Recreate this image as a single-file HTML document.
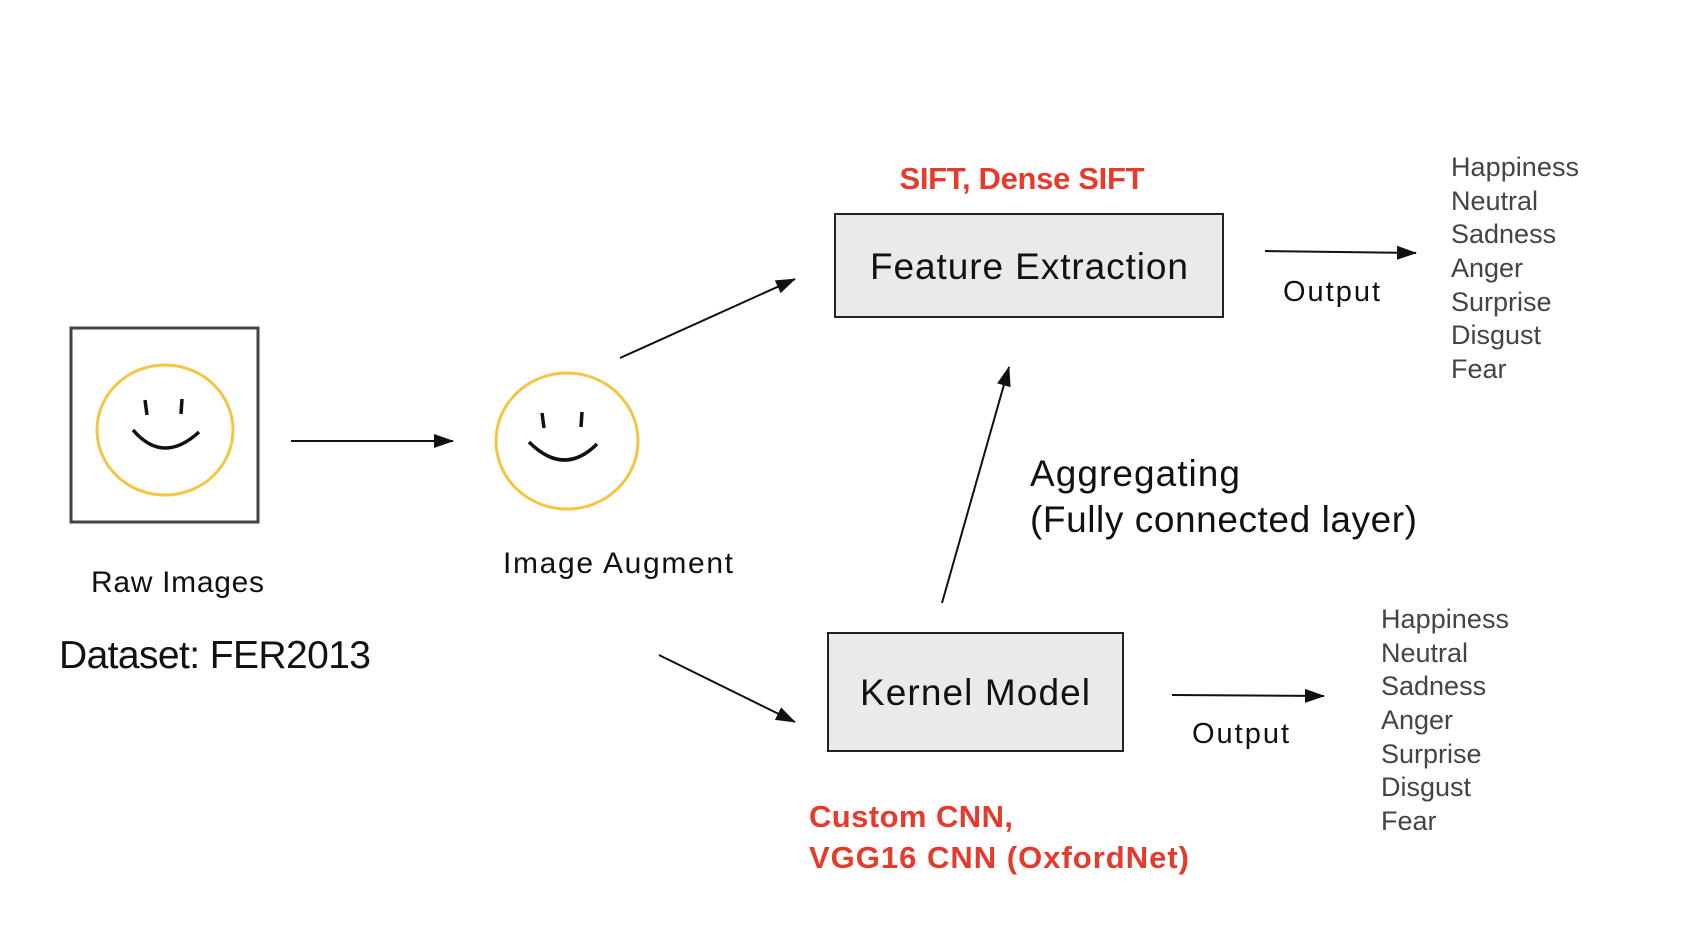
<!DOCTYPE html>
<html><head><meta charset="utf-8"><style>
body{margin:0;background:#fff}
svg{display:block}
text{font-family:"Liberation Sans",sans-serif}
</style></head><body>
<svg width="1684" height="948" viewBox="0 0 1684 948" xmlns="http://www.w3.org/2000/svg">
<defs>
<marker id="b" markerWidth="20" markerHeight="14" refX="19" refY="7" orient="auto" markerUnits="userSpaceOnUse"><path d="M0,0 L20,7 L0,14 z" fill="#111"/></marker></defs>
<g transform="translate(-4,-2)">
<g transform="translate(3,0)">
<rect x="72" y="330" width="187" height="194" fill="#fff" stroke="#444" stroke-width="3"/>
<ellipse cx="166" cy="432" rx="68" ry="65" fill="none" stroke="#f5c542" stroke-width="3"/>
<path d="M146,402 l2,15 M183,401 l-1,15 M134,432 q30,35 66,2" fill="none" stroke="#111" stroke-width="3.5"/>
<ellipse cx="568" cy="443" rx="71" ry="68" fill="none" stroke="#f5c542" stroke-width="3"/>
<path d="M543,415 l2,15 M583,414 l-1,15 M530,444 q35,35 68,2" fill="none" stroke="#111" stroke-width="3.5"/>
<line x1="292" y1="443" x2="454" y2="443" stroke="#111" stroke-width="2" marker-end="url(#b)"/>
</g>
<g stroke="#111" stroke-width="2" fill="none" marker-end="url(#b)">
<line x1="624" y1="360" x2="799" y2="281"/>
<line x1="1269" y1="253" x2="1420" y2="255"/>
<line x1="946" y1="605" x2="1013" y2="369"/>
<line x1="663" y1="657" x2="799" y2="724"/>
<line x1="1176" y1="697" x2="1328" y2="698"/>
</g>
<rect x="839" y="216" width="388" height="103" fill="#e8eaeb" stroke="#222" stroke-width="2"/>
<text x="1033" y="281" font-size="37" text-anchor="middle" fill="#111" textLength="318">Feature Extraction</text>
<rect x="832" y="635" width="295" height="118" fill="#e8eaeb" stroke="#222" stroke-width="2"/>
<text x="979" y="707" font-size="37" text-anchor="middle" fill="#111" textLength="230">Kernel Model</text>
<text x="1026" y="191" font-size="31" font-weight="bold" text-anchor="middle" fill="#e53b2c" textLength="245">SIFT, Dense SIFT</text>
<text x="813" y="829" font-size="31" font-weight="bold" fill="#e53b2c" textLength="204">Custom CNN,</text>
<text x="813" y="870" font-size="31" font-weight="bold" fill="#e53b2c" textLength="380">VGG16 CNN (OxfordNet)</text>
<text x="95" y="594" font-size="30" fill="#111" textLength="173">Raw Images</text>
<text x="507" y="575" font-size="30" fill="#111" textLength="230">Image Augment</text>
<text x="63" y="670" font-size="39" fill="#111" textLength="312">Dataset: FER2013</text>
<text x="1287" y="303" font-size="29" fill="#111" textLength="97">Output</text>
<text x="1196" y="745" font-size="29" fill="#111" textLength="97">Output</text>
<text x="1034" y="488" font-size="37" fill="#111" textLength="210">Aggregating</text>
<text x="1034" y="534" font-size="37" fill="#111" textLength="387">(Fully connected layer)</text>
<g font-size="27" fill="#444">
<text x="1455" y="178" textLength="128">Happiness</text><text x="1455" y="212">Neutral</text><text x="1455" y="245">Sadness</text><text x="1455" y="279">Anger</text><text x="1455" y="313">Surprise</text><text x="1455" y="346">Disgust</text><text x="1455" y="380">Fear</text>
<text x="1385" y="630" textLength="128">Happiness</text><text x="1385" y="664">Neutral</text><text x="1385" y="697">Sadness</text><text x="1385" y="731">Anger</text><text x="1385" y="765">Surprise</text><text x="1385" y="798">Disgust</text><text x="1385" y="832">Fear</text>
</g>
</g>
</svg>
</body></html>
